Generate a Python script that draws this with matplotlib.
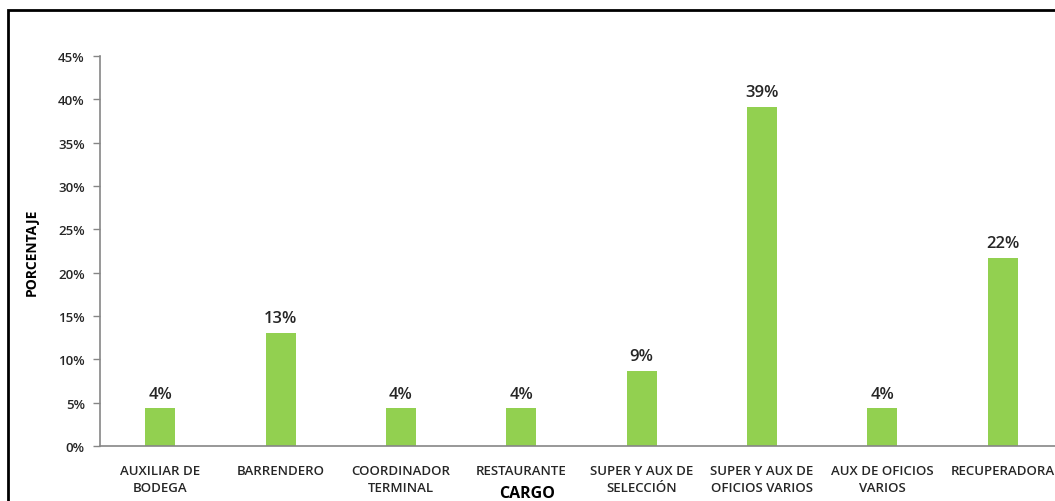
import numpy as np
import matplotlib
matplotlib.use("Agg")
import matplotlib.pyplot as plt
from matplotlib.patches import Rectangle
from matplotlib.ticker import PercentFormatter

cargos = ["AUXILIAR DE\nBODEGA", "BARRENDERO", "COORDINADOR\nTERMINAL", "RESTAURANTE",
          "SUPER Y AUX DE\nSELECCIÓN", "SUPER Y AUX DE\nOFICIOS VARIOS", "AUX DE OFICIOS\nVARIOS",
          "RECUPERADORA"]
conteo = [1, 3, 1, 1, 2, 9, 1, 5]
porcentaje = [c / sum(conteo) for c in conteo]
yticks = [0, 0.05, 0.10, 0.15, 0.20, 0.25, 0.30, 0.35, 0.40, 0.45]

plt.rcParams['font.family'] = ['Open Sans', 'DejaVu Sans']

fig = plt.figure(figsize=(10.55, 5.02), dpi=100)
fig.patch.set_facecolor('white')
ax = fig.add_axes([100 / 1055, 55 / 502, 963 / 1055, 390 / 502])

x = np.arange(len(cargos))
ax.bar(x, porcentaje, width=0.25, color='#92D050')
for xi, p in zip(x, porcentaje):
    ax.text(xi, p + 0.0075, f"{p * 100:.0f}%", ha='center', va='bottom',
            fontsize=12, fontweight='semibold', color='#262626')

ax.set_xlim(-0.5, len(cargos) - 0.5)
ax.set_ylim(0, 0.45)
ax.set_yticks(yticks)
ax.yaxis.set_major_formatter(PercentFormatter(1.0, decimals=0))
ax.set_xticks(x)
ax.set_xticklabels(cargos, fontsize=9.5, fontweight='semibold', color='#262626',
                   linespacing=1.35, va='top')
ax.tick_params(axis='x', length=0, pad=13)
ax.tick_params(axis='y', labelsize=9.5, colors='#262626', length=5, width=1,
               color='#868686', pad=6)
for lbl in ax.get_yticklabels():
    lbl.set_fontweight('semibold')
for s in ['top', 'right']:
    ax.spines[s].set_visible(False)
for s in ['left', 'bottom']:
    ax.spines[s].set_color('#868686')
    ax.spines[s].set_linewidth(1.2)

fig.text(32 / 1055, 1 - 252 / 502, "PORCENTAJE", rotation=90, ha='center', va='center',
         fontsize=10, fontweight='bold')
fig.text(527 / 1055, 1 - 494 / 502, "CARGO", ha='center', va='center',
         fontsize=11.5, fontweight='bold')

fig.patches.append(Rectangle((8 / 1055, -0.1), 1.2, 1 - 11 / 502 + 0.1,
                             transform=fig.transFigure, fill=False,
                             edgecolor='black', linewidth=2))

fig.savefig("out.png", dpi=100)
